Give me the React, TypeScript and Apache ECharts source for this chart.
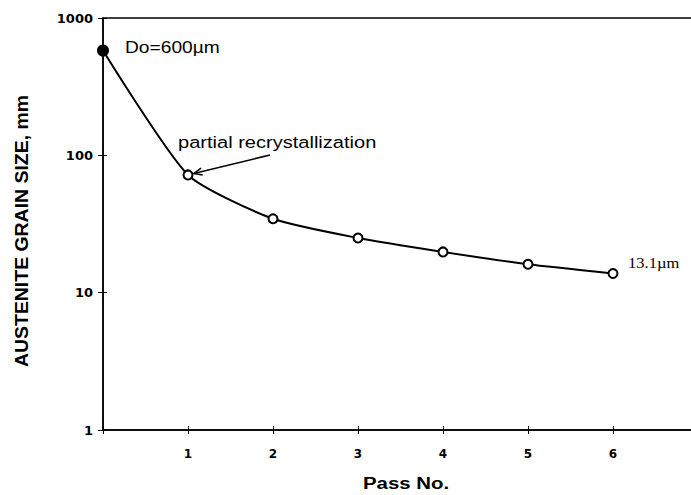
import React, { useEffect, useRef } from "react";
import * as echarts from "echarts";

const passNo = [0, 1, 2, 3, 4, 5, 6];
const grainSize = [580, 72, 34.5, 25, 19.8, 16.1, 13.8];
const xTickLabels = ["1", "2", "3", "4", "5", "6"];
const yTickLabels = ["1", "10", "100", "1000"];
const initialLabel = "Do=600µm";
const finalLabel = "13.1µm";
const noteLabel = "partial recrystallization";
const yTitle = "AUSTENITE GRAIN SIZE, mm";
const xTitle = "Pass No.";

export default function App() {
  const ref = useRef<HTMLDivElement>(null);
  useEffect(() => {
    if (!ref.current) return;
    const chart = echarts.init(ref.current, undefined, { renderer: "svg" });
    const sans = "'Liberation Sans', Arial, sans-serif";
    const tickFont = "'DejaVu Sans', sans-serif";
    const data = passNo.map((x, i) =>
      i === 0
        ? { value: [x, grainSize[i]], itemStyle: { color: "#000" }, symbolSize: 10 }
        : { value: [x, grainSize[i]] }
    );
    chart.setOption({
      animation: false,
      backgroundColor: "#fff",
      grid: {
        left: 103,
        top: 18,
        width: 595,
        height: 412,
        show: true,
        borderColor: "#000",
        borderWidth: 1.5,
        outerBoundsMode: "none",
      },
      xAxis: [
        {
          type: "value",
          min: 0,
          max: 7,
          interval: 1,
          position: "bottom",
          axisLine: { show: true, lineStyle: { color: "#000", width: 1.5 } },
          axisTick: { show: true, inside: false, length: 4, lineStyle: { color: "#000" } },
          splitLine: { show: false },
          axisLabel: {
            color: "#000",
            fontFamily: tickFont,
            fontWeight: "bold",
            fontSize: 12,
            margin: 18,
            formatter: (v: number) => (xTickLabels.includes(String(v)) ? String(v) : ""),
          },
        },
        {
          type: "value",
          min: 0,
          max: 7,
          interval: 1,
          position: "bottom",
          axisLine: { show: false },
          axisTick: { show: true, inside: true, length: 4, lineStyle: { color: "#000" } },
          splitLine: { show: false },
          axisLabel: { show: false },
        },
      ],
      yAxis: [
        {
          type: "log",
          logBase: 10,
          min: 1,
          max: 1000,
          position: "left",
          axisLine: { show: true, lineStyle: { color: "#000", width: 1.5 } },
          axisTick: { show: true, inside: false, length: 5, lineStyle: { color: "#000" } },
          minorTick: { show: false },
          splitLine: { show: false },
          axisLabel: {
            color: "#000",
            fontFamily: tickFont,
            fontWeight: "bold",
            fontSize: 13,
            margin: 10,
            formatter: (v: number) => (yTickLabels.includes(String(v)) ? String(v) : ""),
          },
        },
        {
          type: "log",
          logBase: 10,
          min: 1,
          max: 1000,
          position: "left",
          axisLine: { show: false },
          axisTick: { show: true, inside: true, length: 4, lineStyle: { color: "#000" } },
          splitLine: { show: false },
          axisLabel: { show: false },
        },
      ],
      series: [
        {
          type: "line",
          xAxisIndex: 0,
          yAxisIndex: 0,
          data,
          smooth: 0.2,
          symbol: "circle",
          symbolSize: 9,
          lineStyle: { color: "#000", width: 2 },
          itemStyle: { color: "#fff", borderColor: "#000", borderWidth: 2 },
          z: 3,
        },
      ],
    });

    const p1 = chart.convertToPixel({ gridIndex: 0 }, [passNo[1], grainSize[1]]) as number[];
    const start = [270, 155];
    const dx = start[0] - p1[0];
    const dy = start[1] - p1[1];
    const len = Math.hypot(dx, dy);
    const ux = dx / len;
    const uy = dy / len;
    const tip = [p1[0] + ux * 6, p1[1] + uy * 6];
    const ang = Math.atan2(uy, ux);
    const head = 9;
    const spread = 0.4;
    const h1 = [tip[0] + head * Math.cos(ang + spread), tip[1] + head * Math.sin(ang + spread)];
    const h2 = [tip[0] + head * Math.cos(ang - spread), tip[1] + head * Math.sin(ang - spread)];

    chart.setOption({
      graphic: [
        {
          type: "text",
          x: 125,
          y: 47.5,
          scaleX: 1.2,
          style: { text: initialLabel, fontFamily: sans, fontSize: 16, fill: "#000", verticalAlign: "middle" },
        },
        {
          type: "text",
          x: 178,
          y: 142,
          scaleX: 1.18,
          style: { text: noteLabel, fontFamily: sans, fontSize: 17, fill: "#000", verticalAlign: "middle" },
        },
        {
          type: "text",
          x: 628,
          y: 263,
          scaleX: 1.18,
          style: {
            text: finalLabel,
            fontFamily: "'Liberation Serif', 'Times New Roman', serif",
            fontSize: 14,
            fill: "#000",
            verticalAlign: "middle",
          },
        },
        {
          type: "text",
          x: 22,
          y: 231,
          rotation: Math.PI / 2,
          scaleX: 1.08,
          style: {
            text: yTitle,
            fontFamily: sans,
            fontWeight: "bold",
            fontSize: 18,
            fill: "#000",
            align: "center",
            verticalAlign: "middle",
          },
        },
        {
          type: "text",
          x: 363,
          y: 483,
          scaleX: 1.2,
          style: {
            text: xTitle,
            fontFamily: sans,
            fontWeight: "bold",
            fontSize: 17,
            fill: "#000",
            verticalAlign: "middle",
          },
        },
        {
          type: "line",
          shape: { x1: start[0], y1: start[1], x2: tip[0], y2: tip[1] },
          style: { stroke: "#000", lineWidth: 1.5 },
        },
        {
          type: "polyline",
          shape: { points: [h1, tip, h2] },
          style: { stroke: "#000", lineWidth: 1.5, fill: "none" },
        },
      ],
    });

    return () => chart.dispose();
  }, []);
  return (
    <div
      ref={ref}
      style={{ position: "fixed", left: 0, top: 0, width: 691, height: 495, background: "#fff" }}
    />
  );
}
